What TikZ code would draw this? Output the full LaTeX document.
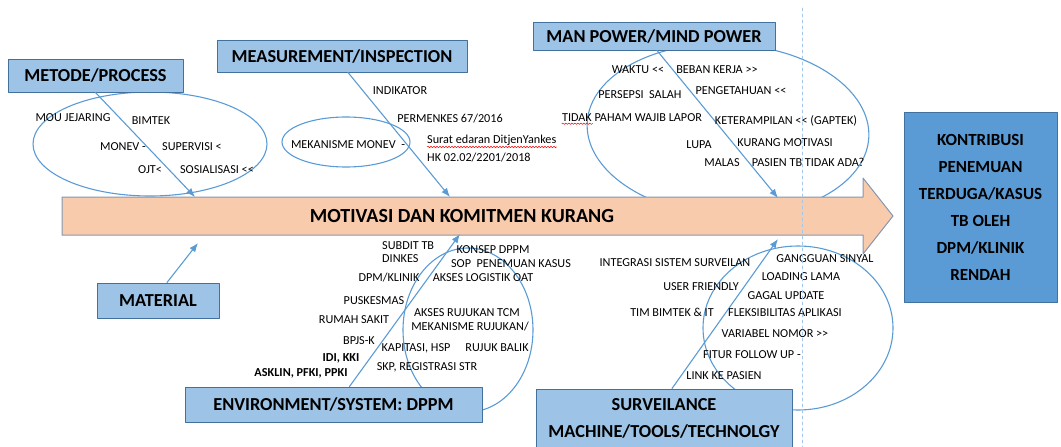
\documentclass[tikz,border=0pt]{standalone}
\usepackage{fontspec}
\setmainfont{Carlito}
\usetikzlibrary{arrows.meta,decorations.pathmorphing}
\definecolor{boxblue}{HTML}{9DC3E6}
\definecolor{lineblue}{HTML}{5B9BD5}
\definecolor{edgeblue}{HTML}{41719C}
\definecolor{peach}{HTML}{F8CBAD}
\definecolor{arrowedge}{HTML}{8497B0}

\begin{document}
\begin{tikzpicture}[x=1pt, y=-1pt, line cap=round, line join=round,
  cat/.style={draw=edgeblue, fill=boxblue, line width=1pt, inner sep=0pt,
    font=\fontsize{18.3}{27}\selectfont\bfseries},
  lbl/.style={inner sep=0pt, font=\fontsize{12.2}{13}\selectfont},
  bone/.style={draw=lineblue, line width=1.1pt, -{Latex[length=9pt,width=7pt]}},
  ring/.style={draw=lineblue, line width=1.1pt},
  wavy/.style={draw=red, line width=0.5pt, decorate,
    decoration={snake, amplitude=0.7pt, segment length=3pt}}]

\useasboundingbox (0,0) rectangle (1061,447);

% Ellipses round the causes
\draw[ring] (150,144) ellipse [x radius=117pt, y radius=52pt];
\draw[ring] (346,142) ellipse [x radius=64pt, y radius=25pt];
\draw[ring, rotate around={-3:(728,130)}] (728,130) ellipse [x radius=141pt, y radius=86pt];
\draw[ring] (468,330) ellipse [x radius=65pt, y radius=82pt];
\draw[ring] (798,328) ellipse [x radius=95pt, y radius=82pt];

% Main arrow (problem)
\draw[draw=arrowedge, fill=peach, line width=1pt]
  (62,197) -- (863,197) -- (863,178) -- (893,216) -- (863,254) -- (863,235) -- (62,235) -- cycle;
\node[font=\fontsize{20}{22}\selectfont\bfseries] (effect) at (462,216) {MOTIVASI DAN KOMITMEN KURANG};

% Result box
\node[draw=edgeblue, fill=lineblue, line width=1pt, align=center,
  minimum width=153pt, minimum height=190pt,
  font=\fontsize{17}{27}\selectfont\bfseries] (result) at (980.5,207)
  {KONTRIBUSI\\PENEMUAN\\TERDUGA/KASUS\\TB OLEH\\DPM/KLINIK\\RENDAH};

% Category boxes
\node[cat, minimum width=175pt, minimum height=33pt] (metode) at (95.5,75.5) {METODE/PROCESS};
\node[cat, minimum width=250pt, minimum height=32pt] (measure) at (342,56) {MEASUREMENT/INSPECTION};
\node[cat, minimum width=242pt, minimum height=28pt] (manpower) at (654,36) {MAN POWER/MIND POWER};
\node[cat, minimum width=122pt, minimum height=35pt] (material) at (158,300.5) {MATERIAL};
\node[cat, minimum width=297pt, minimum height=35pt] (env) at (333.5,404.5) {ENVIRONMENT/SYSTEM: DPPM};
\node[cat, minimum width=256pt, minimum height=59pt, align=center] (surv) at (664,418.5)
  {SURVEILANCE\\MACHINE/TOOLS/TECHNOLGY};

% Points on the main arrow
\coordinate (t1) at (195,197);
\coordinate (t2) at (450,197);
\coordinate (t3) at (778,198);
\coordinate (t4) at (198,243);
\coordinate (t5) at (460,234);
\coordinate (t6) at (778,239);

% Bones
\draw[bone] (metode.south) -- (t1);
\draw[bone] ([xshift=6pt]measure.south) -- (t2);
\draw[bone] ([xshift=3pt]manpower.south) -- (t3);
\draw[bone] ([xshift=9pt]material.north) -- (t4);
\draw[bone] ([xshift=16pt]env.north) -- (t5);
\draw[bone] ([xshift=8pt]surv.north) -- (t6);

% Metode/process
\node[lbl] (mou) at (73,118) {MOU JEJARING};
\node[lbl] (bimtek) at (151,121) {BIMTEK};
\node[lbl] (monev) at (123,147) {MONEV -};
\node[lbl] (superv) at (192,147) {SUPERVISI <};
\node[lbl] (ojt) at (150,170) {OJT<};
\node[lbl] (sosial) at (217,170) {SOSIALISASI <{}<};

% Measurement/inspection
\node[lbl] (indikator) at (400,91) {INDIKATOR};
\node[lbl] (permenkes) at (450,119) {PERMENKES 67/2016};
\node[lbl] (mekmonev) at (348,145) {MEKANISME MONEV~ -};
\node[lbl, anchor=west] (surat) at (427,140) {Surat edaran DitjenYankes};
\node[lbl, anchor=west] (hk) at (427,158) {HK 02.02/2201/2018};
\draw[wavy] ([yshift=-1.5pt]surat.south west) -- ([yshift=-1.5pt]surat.south east);

% Man power/mind power
\node[lbl] (waktu) at (638,70) {WAKTU <{}<};
\node[lbl] (beban) at (717,70) {BEBAN KERJA >{}>};
\node[lbl] (persepsi) at (640,95) {PERSEPSI~ SALAH};
\node[lbl] (tahu) at (741,91) {PENGETAHUAN <{}<};
\node[lbl] (tidak) at (632,118) {TIDAK PAHAM WAJIB LAPOR};
\node[lbl] (terampil) at (786,121) {KETERAMPILAN <{}< (GAPTEK)};
\node[lbl] (lupa) at (699,145) {LUPA};
\node[lbl] (kurang) at (785,143) {KURANG MOTIVASI};
\node[lbl] (malas) at (722,163) {MALAS};
\node[lbl] (pasien) at (808,162) {PASIEN TB TIDAK ADA?};
\draw[wavy] ([yshift=-1.5pt]tidak.south west) -- ([xshift=31pt,yshift=-1.5pt]tidak.south west);

% Environment/system
\node[lbl, anchor=west] (subdit) at (382,246) {SUBDIT TB};
\node[lbl, anchor=west] (dinkes) at (382,259) {DINKES};
\node[lbl] (konsep) at (493,250) {KONSEP DPPM};
\node[lbl] (sop) at (511,264) {SOP~ PENEMUAN KASUS};
\node[lbl] (dpm) at (389,278) {DPM/KLINIK};
\node[lbl] (logistik) at (483,278) {AKSES LOGISTIK OAT};
\node[lbl] (puskesmas) at (374,301) {PUSKESMAS};
\node[lbl] (rs) at (354,320) {RUMAH SAKIT};
\node[lbl] (tcm) at (467,313) {AKSES RUJUKAN TCM};
\node[lbl] (rujukan) at (470,327) {MEKANISME RUJUKAN/};
\node[lbl] (bpjs) at (359,341) {BPJS-K};
\node[lbl] (kapitasi) at (416,348) {KAPITASI, HSP};
\node[lbl] (balik) at (497,348) {RUJUK BALIK};
\node[lbl, font=\fontsize{12.2}{13}\selectfont\bfseries] (idi) at (341,358) {IDI, KKI};
\node[lbl, font=\fontsize{12.2}{13}\selectfont\bfseries] (asklin) at (301,373) {ASKLIN, PFKI, PPKI};
\node[lbl] (skp) at (427,367) {SKP, REGISTRASI STR};

% Surveilance
\node[lbl] (integrasi) at (675,263) {INTEGRASI SISTEM SURVEILAN};
\node[lbl] (sinyal) at (825,259) {GANGGUAN SINYAL};
\node[lbl] (loading) at (801,277) {LOADING LAMA};
\node[lbl] (user) at (701,287) {USER FRIENDLY};
\node[lbl] (gagal) at (786,296) {GAGAL UPDATE};
\node[lbl] (tim) at (672,312) {TIM BIMTEK \& IT};
\node[lbl] (fleksi) at (785,313) {FLEKSIBILITAS APLIKASI};
\node[lbl] (variabel) at (775,334) {VARIABEL NOMOR >{}>};
\node[lbl] (fitur) at (752,355) {FITUR FOLLOW UP -};
\node[lbl] (link) at (724,376) {LINK KE PASIEN};

% Dashed guide line
\draw[dashed, draw=lineblue!55, line width=0.6pt] (802,8) -- (802,447);

\end{tikzpicture}
\end{document}
